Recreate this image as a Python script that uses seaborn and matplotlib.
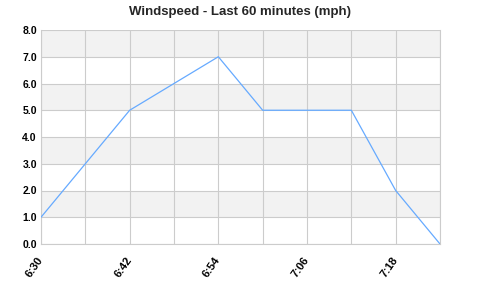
import matplotlib
matplotlib.use("Agg")
import matplotlib.pyplot as plt
import seaborn as sns
import pandas as pd

times = ["6:30", "6:36", "6:42", "6:48", "6:54", "7:00", "7:06", "7:12", "7:18", "7:24"]
speeds = [1.0, 3.0, 5.0, 6.0, 7.0, 5.0, 5.0, 5.0, 2.0, 0.0]
tick_labels = ["6:30", "6:42", "6:54", "7:06", "7:18"]
title = "Windspeed - Last 60 minutes (mph)"

sns.set_theme(style="white")
plt.rcParams['font.family'] = ['Liberation Sans', 'DejaVu Sans']

df = pd.DataFrame({"idx": list(range(len(times))), "time": times, "speed": speeds})

fig = plt.figure(figsize=(4.8, 2.99), dpi=100)
ax = fig.add_axes([41/480, 55/299, 399/480, 214/299])

# alternating bands
for y0 in range(0, 8):
    ax.axhspan(y0, y0 + 1, color="#f2f2f2" if y0 % 2 == 1 else "white", zorder=0, lw=0)

sns.lineplot(data=df, x="idx", y="speed", ax=ax, color="#66aaff", lw=0.9, zorder=3)

ax.set_xlim(0, len(times) - 1)
ax.set_ylim(0, 8)
ax.set_xticks(range(len(times)))
ax.set_xticklabels([t if t in tick_labels else "" for t in times])
ax.set_yticks(range(0, 9))
ax.set_yticklabels([f"{v:.1f}" for v in range(0, 9)])
ax.grid(True, color="#cccccc", lw=0.8, zorder=1)
ax.set_axisbelow(True)
for s in ["left", "bottom", "right"]:
    ax.spines[s].set_color("#cccccc")
    ax.spines[s].set_linewidth(0.8)
ax.spines["top"].set_visible(False)
ax.set_xlabel("")
ax.set_ylabel("")
ax.tick_params(axis="both", length=0, pad=3)
for lab in ax.get_yticklabels():
    lab.set_fontweight("bold")
    lab.set_fontsize(7.5)
    lab.set_color("black")
for lab in ax.get_xticklabels():
    lab.set_fontweight("bold")
    lab.set_fontsize(8)
    lab.set_color("black")
    lab.set_rotation(55)
    lab.set_ha("right")
    lab.set_va("center")
    lab.set_rotation_mode("anchor")
ax.tick_params(axis="x", pad=10)
fig.text(0.5, 1 - 12/299, title, ha="center", va="center", fontsize=9.5, fontweight="bold")

fig.savefig("out.png", dpi=100)
